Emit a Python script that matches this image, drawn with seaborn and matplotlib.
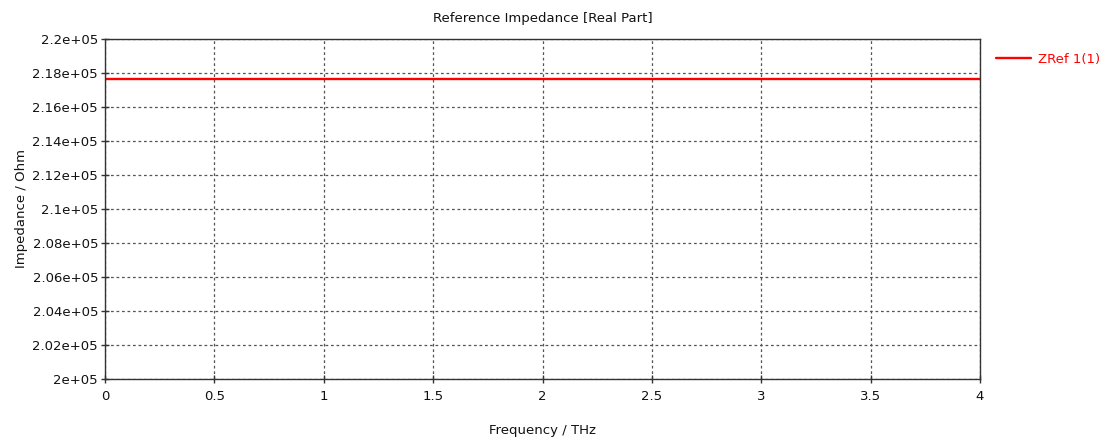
import matplotlib
matplotlib.use("Agg")
import matplotlib.pyplot as plt
import seaborn as sns
import pandas as pd

# Reference impedance, real part, port 1 mode 1
frequency_thz = [0.0, 0.5, 1.0, 1.5, 2.0, 2.5, 3.0, 3.5, 4.0]
zref_real = [217650] * len(frequency_thz)
series_name = "ZRef 1(1)"

x_ticks = [0, 0.5, 1, 1.5, 2, 2.5, 3, 3.5, 4]
x_tick_labels = ["0", "0.5", "1", "1.5", "2", "2.5", "3", "3.5", "4"]
y_ticks = [200000, 202000, 204000, 206000, 208000, 210000,
           212000, 214000, 216000, 218000, 220000]
y_tick_labels = ["2e+05", "2.02e+05", "2.04e+05", "2.06e+05", "2.08e+05",
                 "2.1e+05", "2.12e+05", "2.14e+05", "2.16e+05", "2.18e+05",
                 "2.2e+05"]

df = pd.DataFrame({"Frequency": frequency_thz, "ZRef": zref_real,
                   "Series": series_name})

sns.set_style("white")
plt.rcParams["font.family"] = ["DejaVu Sans"]

fig = plt.figure(figsize=(11.04, 4.46), dpi=100)
ax = fig.add_axes([0.0951, 0.1502, 0.7926, 0.7624])

sns.lineplot(data=df, x="Frequency", y="ZRef", hue="Series",
             palette=["#ff0000"], linewidth=1.7, ax=ax, legend=False)

ax.set_xlim(0, 4)
ax.set_ylim(200000, 220000)
ax.set_xticks(x_ticks)
ax.set_xticklabels(x_tick_labels)
ax.set_yticks(y_ticks)
ax.set_yticklabels(y_tick_labels)

ax.grid(True, color="#555555", linestyle=(0, (2.2, 2.2)), linewidth=0.9)
for side in ["left", "bottom", "top", "right"]:
    ax.spines[side].set_color("#333333")
    ax.spines[side].set_linewidth(1.0)
ax.tick_params(axis="both", bottom=True, left=True, direction="inout",
               length=6, width=1, color="#333333", labelsize=9.5,
               labelcolor="#111111")
ax.tick_params(axis="x", pad=5)
ax.tick_params(axis="y", pad=2)

ax.set_title("Reference Impedance [Real Part]", fontsize=9.5, pad=12,
             color="#111111")
ax.set_xlabel("Frequency / THz", fontsize=9.5, labelpad=15, color="#111111")
ax.set_ylabel("Impedance / Ohm", fontsize=9.5, labelpad=3, color="#111111")

handle = plt.Line2D([], [], color="#ff0000", linewidth=1.7)
leg = ax.legend([handle], [series_name], loc="upper left",
                bbox_to_anchor=(1.005, 0.995), frameon=False, fontsize=9.5,
                handlelength=2.6, handletextpad=0.6)
for txt in leg.get_texts():
    txt.set_color("#ff0000")

fig.savefig("out.png", dpi=100)
